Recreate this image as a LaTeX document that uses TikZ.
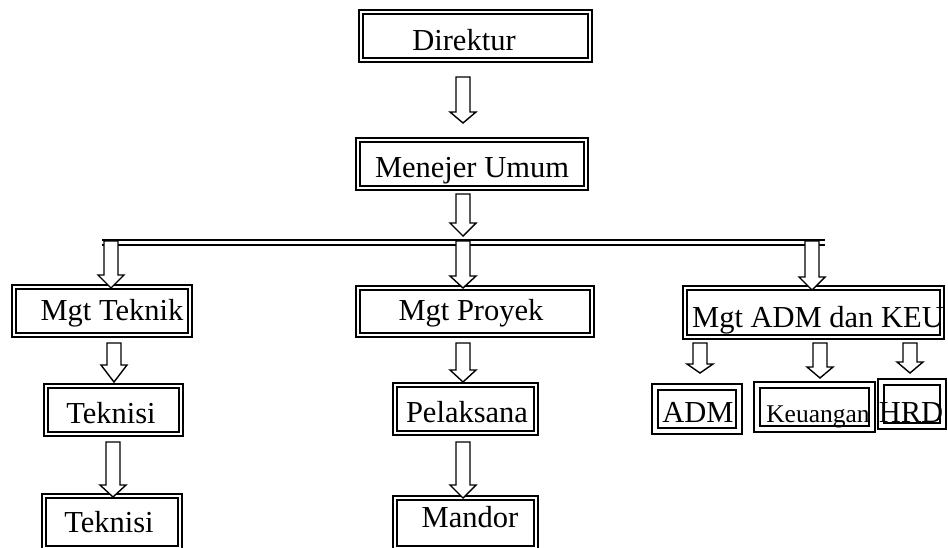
\documentclass[tikz,border=0pt]{standalone}
\usepackage{fontspec}
\setmainfont{Liberation Serif}
\usetikzlibrary{calc}
\tikzset{
  dbox/.style={draw, double, line width=1.7pt, double distance=2.4pt, inner sep=0pt},
  dboxw/.style={draw, double, line width=1.9pt, double distance=3.4pt, inner sep=0pt},
  txt/.style={anchor=base, inner sep=0pt, font=\fontsize{30.5}{36}\selectfont},
  txts/.style={anchor=base, inner sep=0pt, font=\fontsize{25.5}{30}\selectfont},
  barrow/.style={draw, fill=white, line width=1.4pt, line join=miter},
  hline/.style={line width=#1}
}
\newcommand\barr[3]{%
  \draw[barrow] let \p1=(#1), \p2=(#2) in
  (\x1-7pt,\y1) -- (\x1+7pt,\y1) -- (\x1+7pt,\y2+#3) -- (\x1+13pt,\y2+#3)
  -- (\x1,\y2) -- (\x1-13pt,\y2+#3) -- (\x1-7pt,\y2+#3) -- cycle;}
\begin{document}
\begin{tikzpicture}[x=1pt,y=-1pt]
\clip (0,0) rectangle (948,547);
\fill[white] (0,0) rectangle (948,547);

% boxes
\node[dbox, minimum width=229, minimum height=48] (dir) at (475.5,36) {};
\node[dbox, minimum width=228, minimum height=48] (mgr) at (472,164) {};
\node[dbox, minimum width=176, minimum height=48] (tek) at (102,311) {};
\node[dbox, minimum width=135, minimum height=48] (tk1) at (113.5,410) {};
\node[dbox, minimum width=136, minimum height=52] (tk2) at (112,522) {};
\node[dbox, minimum width=234, minimum height=47] (pro) at (475,311.5) {};
\node[dbox, minimum width=141, minimum height=48] (pel) at (465.5,409) {};
\node[dbox, minimum width=141, minimum height=50] (man) at (465.5,523) {};
\node[dbox, minimum width=257, minimum height=49] (adk) at (813.5,312.5) {};
\node[dboxw, minimum width=84, minimum height=44] (adm) at (697,409) {};
\node[dboxw, minimum width=115, minimum height=44] (keu) at (814.5,407) {};
\node[dboxw, minimum width=62, minimum height=44] (hrd) at (912,404) {};

% texts
\node[txt] (tdir) at (464,50) {Direktur};
\node[txt] (tmgr) at (472,177) {Menejer Umum};
\node[txt] (ttek) at (112,320) {Mgt Teknik};
\node[txt] (ttk1) at (111,423) {Teknisi};
\node[txt] (ttk2) at (109,532) {Teknisi};
\node[txt] (tpro) at (471,320) {Mgt Proyek};
\node[txt] (tpel) at (467,422) {Pelaksana};
\node[txt] (tman) at (470,527) {Mandor};
\node[txt] (tadk) at (818,327) {Mgt ADM dan KEU};
\node[txt] (tadm) at (698,422) {ADM};
\node[txts] (tkeu) at (818,422) {Keuangan};
\node[txt] (thrd) at (911,422) {HRD};

% horizontal double bar
\coordinate (hl1) at (102,240);
\coordinate (hr1) at (825,240);
\coordinate (hl2) at (102,245);
\coordinate (hr2) at (825,245);
\draw[hline=2.2pt] (hl1) -- (hr1);
\draw[hline=1.6pt] (hl2) -- (hr2);

% arrow end points
\coordinate (a1t) at (463,77);  \coordinate (a1b) at (463,123);
\coordinate (a2t) at (463,194); \coordinate (a2b) at (463,236);
\coordinate (a3t) at (111,241); \coordinate (a3b) at (111,288);
\coordinate (a4t) at (463,241); \coordinate (a4b) at (463,288);
\coordinate (a5t) at (812,241); \coordinate (a5b) at (812,290);
\coordinate (a6t) at (114,343); \coordinate (a6b) at (114,382);
\coordinate (a7t) at (113,442); \coordinate (a7b) at (113,497);
\coordinate (a8t) at (463,343); \coordinate (a8b) at (463,382);
\coordinate (a9t) at (463,442); \coordinate (a9b) at (463,498);
\coordinate (a10t) at (700,343); \coordinate (a10b) at (700,373);
\coordinate (a11t) at (820,343); \coordinate (a11b) at (820,378);
\coordinate (a12t) at (910,343); \coordinate (a12b) at (910,373);

\barr{a1t}{a1b}{11pt}
\barr{a2t}{a2b}{13pt}
\barr{a3t}{a3b}{13pt}
\barr{a4t}{a4b}{12pt}
\barr{a5t}{a5b}{13pt}
\barr{a6t}{a6b}{17pt}
\barr{a7t}{a7b}{12pt}
\barr{a8t}{a8b}{12pt}
\barr{a9t}{a9b}{13pt}
\barr{a10t}{a10b}{9pt}
\barr{a11t}{a11b}{11pt}
\barr{a12t}{a12b}{11pt}
\end{tikzpicture}
\end{document}
